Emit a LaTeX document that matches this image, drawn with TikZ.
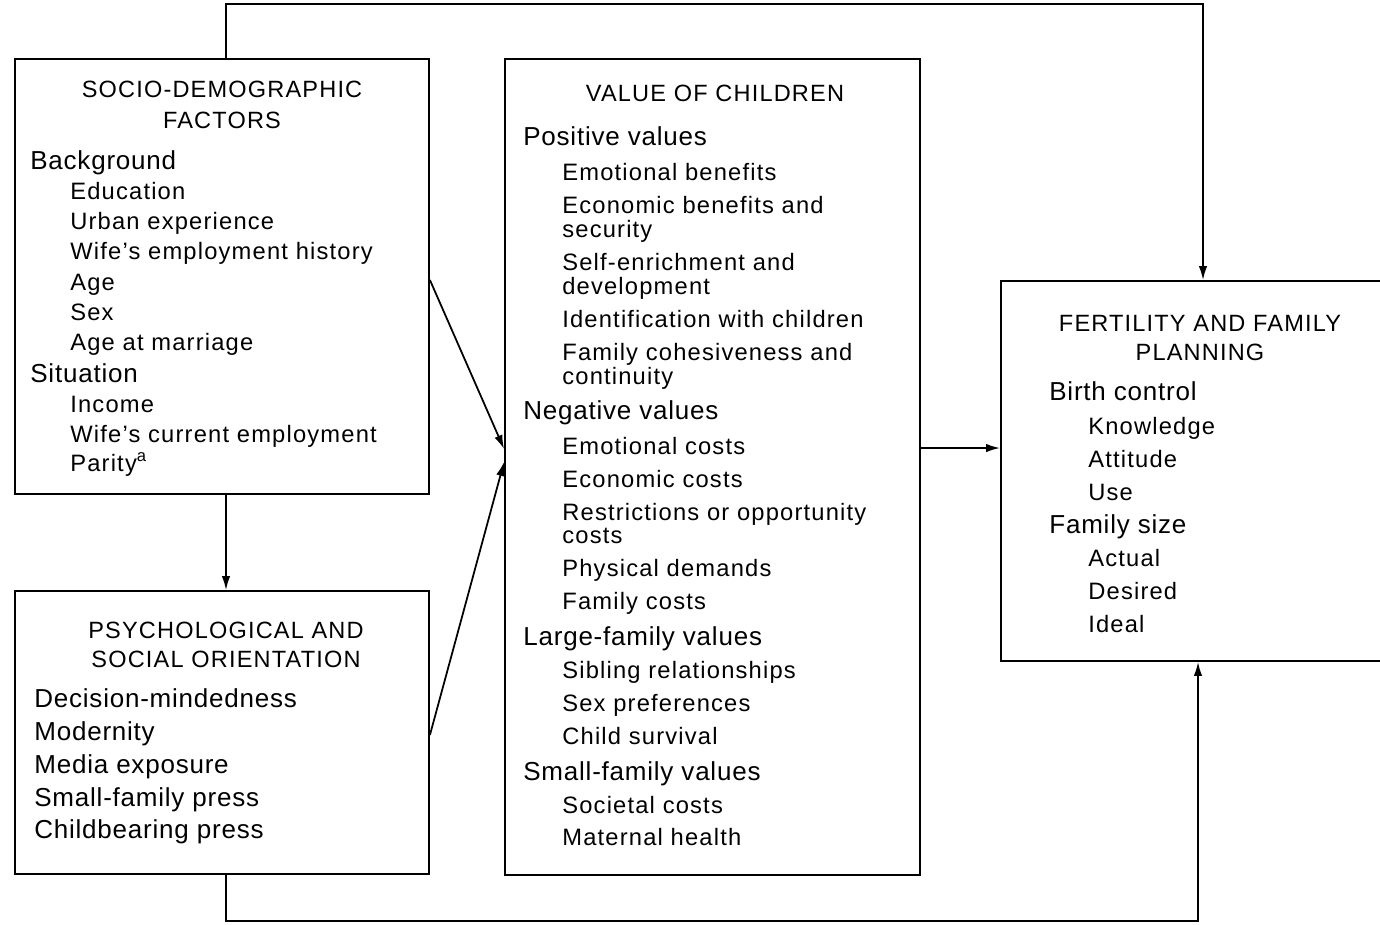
\documentclass[tikz,border=0pt]{standalone}
\usepackage{fontspec}
\usetikzlibrary{arrows.meta,positioning}
\newfontfamily\entryfont[LetterSpace=5]{Liberation Sans}
\newfontfamily\headfont[LetterSpace=3]{Liberation Sans}
\newfontfamily\capsfont[LetterSpace=5]{Liberation Sans}
\tikzset{
  >={Latex[length=2.8mm,width=1.7mm]},
  panel/.style={draw,line width=1.1pt,inner sep=0pt},
  link/.style={->,line width=1pt},
  boxtitle/.style={anchor=base,inner sep=0pt,font=\capsfont\fontsize{13.4}{16}\selectfont},
  heading/.style={anchor=base west,inner sep=0pt,font=\headfont\fontsize{14.8}{18}\selectfont},
  entry/.style={anchor=base west,inner sep=0pt,font=\entryfont\fontsize{13.5}{16}\selectfont},
}

\begin{document}
\begin{tikzpicture}[x=0.02cm,y=-0.02cm]
  \useasboundingbox (0,0) rectangle (1380,924);
  \clip (0,0) rectangle (1380,924);
  % boxes
  \node[panel,minimum width=8.28cm,minimum height=8.7cm] (sdf) at (222,276.5) {};
  \node[panel,minimum width=8.28cm,minimum height=5.66cm] (psy) at (222,732.5) {};
  \node[panel,minimum width=8.3cm,minimum height=16.32cm] (voc) at (712.5,467) {};
  \node[panel,minimum width=7.98cm,minimum height=7.6cm] (fert) at (1200.5,471) {};

  % socio-demographic factors
  \node[boxtitle] (sdft1) at (222,97) {SOCIO-DEMOGRAPHIC};
  \node[boxtitle] (sdft2) at (222,128) {FACTORS};
  \node[heading] (bg) at (30,169) {Background};
  \foreach \y/\t [count=\i] in {199/Education,229/Urban experience,
      259/Wife’s employment history,290/Age,320/Sex,350/Age at marriage}
    \node[entry] (bg\i) at (70,\y) {\t};
  \node[heading] (sit) at (30,382) {Situation};
  \foreach \y/\t [count=\i] in {412/Income,442/Wife’s current employment,
      471/Parity\textsuperscript{a}}
    \node[entry] (sit\i) at (70,\y) {\t};

  % psychological and social orientation
  \node[boxtitle] (psyt1) at (226,638) {PSYCHOLOGICAL AND};
  \node[boxtitle] (psyt2) at (226,667) {SOCIAL ORIENTATION};
  \foreach \y/\t [count=\i] in {707/Decision-mindedness,740/Modernity,
      773/Media exposure,806/Small-family press,838/Childbearing press}
    \node[heading] (or\i) at (34,\y) {\t};

  % value of children
  \node[boxtitle] (voct) at (715,101) {VALUE OF CHILDREN};
  \node[heading] (pos) at (523,145) {Positive values};
  \foreach \y/\t [count=\i] in {180/Emotional benefits,213/Economic benefits and,
      237/security,270/Self-enrichment and,294/development,
      327/Identification with children,360/Family cohesiveness and,384/continuity}
    \node[entry] (pos\i) at (562,\y) {\t};
  \node[heading] (neg) at (523,419) {Negative values};
  \foreach \y/\t [count=\i] in {454/Emotional costs,487/Economic costs,
      520/Restrictions or opportunity,543/costs,576/Physical demands,609/Family costs}
    \node[entry] (neg\i) at (562,\y) {\t};
  \node[heading] (lfv) at (523,645) {Large-family values};
  \foreach \y/\t [count=\i] in {678/Sibling relationships,711/Sex preferences,
      744/Child survival}
    \node[entry] (lfv\i) at (562,\y) {\t};
  \node[heading] (sfv) at (523,780) {Small-family values};
  \foreach \y/\t [count=\i] in {813/Societal costs,845/Maternal health}
    \node[entry] (sfv\i) at (562,\y) {\t};

  % fertility and family planning
  \node[boxtitle] (fertt1) at (1200,331) {FERTILITY AND FAMILY};
  \node[boxtitle] (fertt2) at (1200,360) {PLANNING};
  \node[heading] (bc) at (1049,400) {Birth control};
  \foreach \y/\t [count=\i] in {434/Knowledge,467/Attitude,500/Use}
    \node[entry] (bc\i) at (1088,\y) {\t};
  \node[heading] (fs) at (1049,533) {Family size};
  \foreach \y/\t [count=\i] in {566/Actual,599/Desired,632/Ideal}
    \node[entry] (fs\i) at (1088,\y) {\t};

  % connectors
  \draw[link] ([xshift=0.08cm]sdf.south) -- ([xshift=0.08cm]psy.north);
  \draw[link] ([yshift=-0.07cm]sdf.east) -- ([yshift=0.36cm]voc.west);
  \draw[link] ([yshift=-0.05cm]psy.east) -- ([yshift=0.1cm]voc.west);
  \draw[link] ([yshift=0.38cm]voc.east) -- ([yshift=0.46cm]fert.west);
  \draw[link] ([xshift=0.08cm]sdf.north) -- ++(0,-54) -| ([xshift=0.05cm]fert.north);
  \draw[link] ([xshift=0.08cm]psy.south) -- ++(0,46) -| ([xshift=-0.05cm]fert.south);
\end{tikzpicture}
\end{document}
